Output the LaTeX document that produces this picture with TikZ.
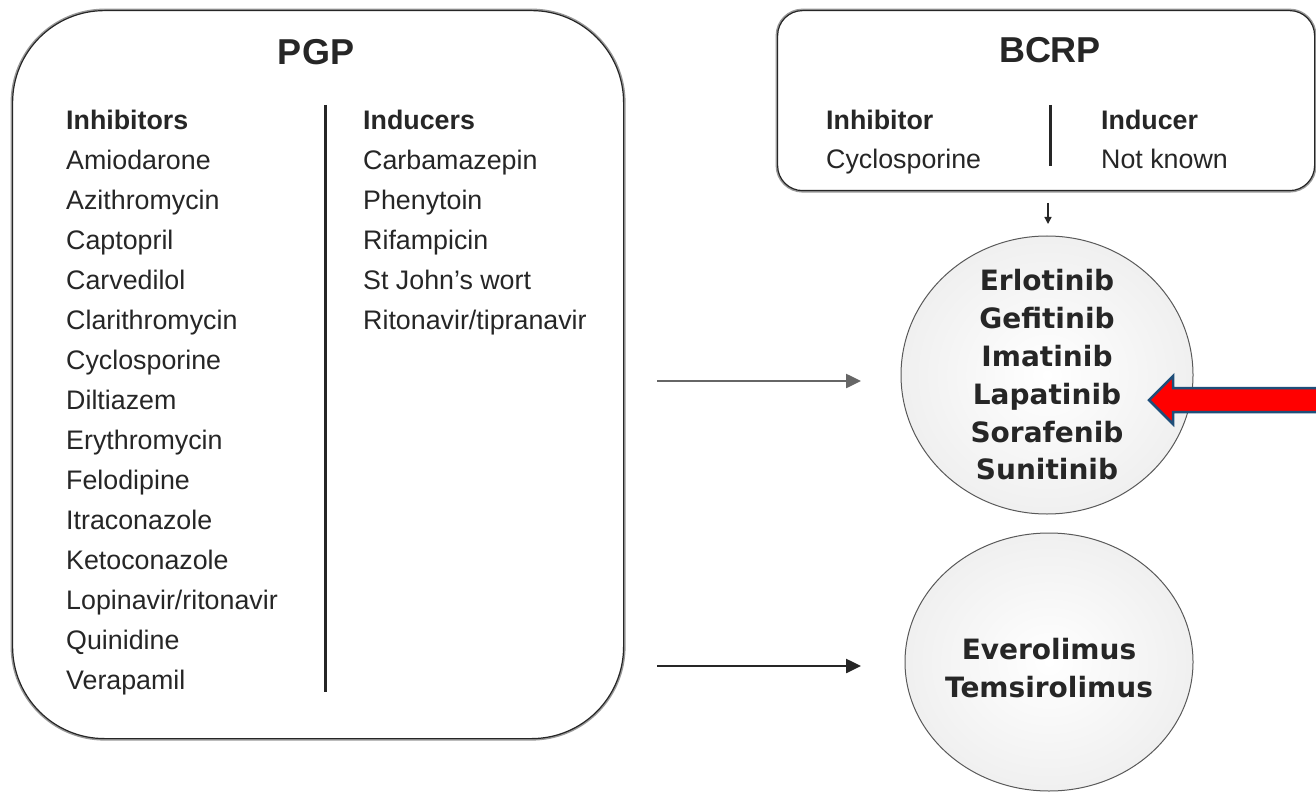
\documentclass[tikz,border=0pt]{standalone}
\usepackage{fontspec}
\setmainfont{Liberation Sans}
\newfontfamily\dvs{DejaVu Sans}
\usetikzlibrary{arrows.meta,shapes.geometric}
\definecolor{arrowblue}{RGB}{31,78,121}
\begin{document}
\begin{tikzpicture}[x=1pt,y=-1pt,
  panel/.style={draw=black!85,line width=1.2pt,preaction={draw=black!40,line width=4pt},fill=white},
  item/.style={anchor=base west,inner sep=0pt,font=\fontsize{26.8}{30}\selectfont,text=black!85},
  headitem/.style={item,font=\fontsize{26.8}{30}\selectfont\bfseries},
  titletext/.style={inner sep=0pt,font=\fontsize{36}{40}\selectfont\bfseries,text=black!85},
  divider/.style={line width=3pt,black!85},
  ell/.style={ellipse,draw=black!65,line width=1pt,inner color=white,outer color=black!6},
  circtext/.style={align=center,inner sep=0pt,font=\dvs\bfseries\fontsize{28}{37.8}\selectfont,text=black!85},
  flow/.style={line width=2.5pt,-{Triangle[length=15pt,width=14pt]}}
]
\useasboundingbox (0,0) rectangle (1316,794);
\clip (0,0) rectangle (1316,794);
\fill[white] (0,0) rectangle (1316,794);

% PGP panel
\node[panel,rounded corners=92pt,minimum width=611pt,minimum height=728pt,anchor=north west] (pgp) at (12,10) {};
\node[titletext] (pgpt) at (316,52) {PGP};
\draw[divider] (325,105) -- (325,692);
\node[headitem] (inhh) at (66,130) {Inhibitors};
\foreach \t [count=\i] in {Amiodarone,Azithromycin,Captopril,Carvedilol,Clarithromycin,Cyclosporine,Diltiazem,Erythromycin,Felodipine,Itraconazole,Ketoconazole,Lopinavir/ritonavir,Quinidine,Verapamil}
  \node[item] (inh\i) at (66,{130+39.93*\i}) {\t};
\node[headitem] (indh) at (363,130) {Inducers};
\foreach \t [count=\i] in {Carbamazepin,Phenytoin,Rifampicin,St John's wort,Ritonavir/tipranavir}
  \node[item] (ind\i) at (363,{130+39.93*\i}) {\t};

% BCRP panel
\node[panel,rounded corners=25pt,minimum width=537pt,minimum height=180pt,anchor=north west] (bcrp) at (777,10) {};
\node[titletext] (bcrpt) at (1050,50) {BCRP};
\draw[divider] (1050,105) -- (1050,166);
\node[headitem] (binh) at (826,130) {Inhibitor};
\node[item] (bcyc) at (826,169) {Cyclosporine};
\node[headitem] (bind) at (1101,130) {Inducer};
\node[item] (bnk) at (1101,169) {Not known};

% circles
\node[ell,minimum width=292pt,minimum height=278pt] (c1) at (1047,375) {};
\node[circtext] (c1t) at (c1.center) {Erlotinib\\Gefitinib\\Imatinib\\Lapatinib\\Sorafenib\\Sunitinib};
\node[ell,minimum width=288pt,minimum height=258pt] (c2) at (1049,662) {};
\node[circtext] (c2t) at (1049,668) {Everolimus\\Temsirolimus};

% connectors
\coordinate (b1) at (1048,203);
\coordinate (b2) at (1048,224);
\draw[line width=1.3pt,black!85,-{Triangle[length=7pt,width=7pt]}] (b1) -- (b2);
\coordinate (a1) at (657,381);
\coordinate (a2) at (861,381);
\coordinate (a3) at (657,666);
\coordinate (a4) at (861,666);
\draw[flow,black!60] (a1) -- (a2);
\draw[flow,black!85] (a3) -- (a4);

% red arrow
\draw[fill=red,draw=arrowblue,line width=2.5pt,line join=miter]
  (1149,400) -- (1173,376) -- (1173,388) -- (1330,388) -- (1330,412) -- (1173,412) -- (1173,424) -- cycle;
\end{tikzpicture}
\end{document}
